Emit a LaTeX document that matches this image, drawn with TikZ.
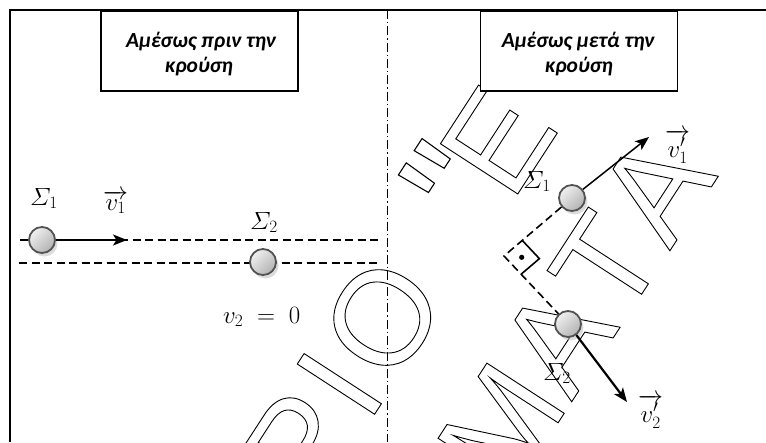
\documentclass[tikz,border=0pt]{standalone}
\usepackage{amsmath}
\usepackage{fontspec}
\newfontfamily\boxfont{Carlito}
\newfontfamily\wmfont{Liberation Sans}
\usetikzlibrary{arrows.meta,calc,shadows}
\newcommand\outlinedglyph[1]{\special{pdf:literal direct 1 Tr 0.9 w}#1\special{pdf:literal direct 0 Tr}}
\begin{document}
\begin{tikzpicture}[x=1pt,y=-1pt,
  wm/.style={font=\wmfont\fontsize{134}{134}\selectfont, inner sep=0pt, anchor=base, rotate=57},
  ball/.style={circle, minimum size=26pt, inner sep=0pt, draw=gray!65!black, line width=1.8pt,
    top color=gray!12, bottom color=gray!60, shading angle=45,
    drop shadow={shadow xshift=2.5pt, shadow yshift=-3.5pt, fill=gray!55, opacity=0.5}},
  titlebox/.style={draw, line width=1.6pt, fill=white, minimum width=197pt, minimum height=80pt, inner sep=0pt},
  titletext/.style={font=\boxfont\bfseries\itshape\fontsize{21.5}{26}\selectfont, inner sep=0pt, anchor=base},
  lbl/.style={font=\fontsize{26.5}{31}\selectfont, inner sep=0pt, anchor=base west},
  guide/.style={line width=1.6pt, dash pattern=on 8pt off 4.5pt},
  axisline/.style={line width=1.5pt, dash pattern=on 9pt off 3pt on 1.3pt off 3pt},
  vec/.style={line width=1.5pt, -{Stealth[length=14pt,width=11pt,inset=3.5pt]}},
  rmark/.style={line width=1.6pt}
]
\useasboundingbox (0,0) rectangle (766,442);

% watermark
\begin{scope}
\clip (0,0) rectangle (766,442);
\node[wm] (wRho) at (338.8,469.4) {\outlinedglyph{Ρ}};
\node[wm] (wIota) at (378,409) {\outlinedglyph{Ι}};
\node[wm] (wOmicron) at (421.1,342.7) {\outlinedglyph{Ο}};
\node[wm, scale=1.2] (wQuote) at (503,217) {\outlinedglyph{"}};
\node[wm] (wEpsilon) at (536.1,165.7) {\outlinedglyph{Ε}};
\node[wm] (wMu) at (539.8,450.9) {\outlinedglyph{Μ}};
\node[wm] (wAlphaA) at (595.9,364.5) {\outlinedglyph{Α}};
\node[wm] (wTau) at (645,289) {\outlinedglyph{Τ}};
\node[wm] (wAlphaB) at (694.1,213.5) {\outlinedglyph{Α}};
\end{scope}

% frame
\coordinate (fBL) at (10,442);
\coordinate (fTL) at (10,10);
\coordinate (fTR) at (766,10);
\draw[line width=1.6pt] (fBL) -- (fTL) -- (fTR);

% separating axis
\coordinate (axT) at (387.5,10);
\coordinate (axB) at (387.5,442);
\draw[axisline] (axT) -- (axB);

% title boxes
\node[titlebox] (box1) at (199.5,51) {};
\node[titletext] (t1a) at (201,47.5) {Αμέσως πριν την};
\node[titletext] (t1b) at (199,72) {κρούση};
\node[titlebox] (box2) at (579,51) {};
\node[titletext] (t2a) at (578,47.5) {Αμέσως μετά την};
\node[titletext] (t2b) at (579,72) {κρούση};

% left panel guides
\coordinate (g1a) at (20,240);
\coordinate (g1b) at (378,240);
\coordinate (g2a) at (19,263);
\coordinate (g2b) at (378,263);
\draw[guide] (g1a) -- (g1b);
\draw[guide] (g2a) -- (g2b);

% balls
\node[ball] (b1) at (42,240) {};
\node[ball] (b2) at (263,262) {};
\node[ball] (b3) at (572,198) {};
\node[ball] (b4) at (568,324) {};

% right angle construction
\coordinate (C) at (504,256);
\draw[guide] (b3) -- (C) -- (b4);
\coordinate (P1) at ($(C)!24pt!(b3)$);
\coordinate (P2) at ($(C)!25pt!(b4)$);
\coordinate (P3) at ($(P1)+(P2)-(C)$);
\draw[rmark] (P1) -- (P3) -- (P2);
\coordinate (Pd) at ($(C)!0.5!(P3)$);
\fill (Pd) circle (2.6pt);

% velocity vectors
\coordinate (t1) at (127,240);
\coordinate (t3) at (649,137);
\coordinate (t4) at (627,402);
\draw[vec, line width=1.6pt] (b1) -- (t1);
\draw[vec] (b3) -- (t3);
\draw[vec, line width=2.2pt] (b4) -- (t4);

% labels
\node[lbl] (s1L) at (30,205) {$\varSigma_1$};
\node[lbl] (v1L) at (103,210) {$\overrightarrow{v_1}$};
\node[lbl] (s2L) at (250,229) {$\varSigma_2$};
\node[lbl] (v20) at (223,323) {$v_2\mkern5mu=\mkern5mu0$};
\node[lbl] (s1R) at (523,188) {$\varSigma_1$};
\node[lbl] (v1R) at (665,157) {$\overrightarrow{v'_1}$};
\node[lbl] (s2R) at (543,380) {$\varSigma_2$};
\node[lbl] (v2R) at (638,422) {$\overrightarrow{v'_2}$};
\end{tikzpicture}
\end{document}
